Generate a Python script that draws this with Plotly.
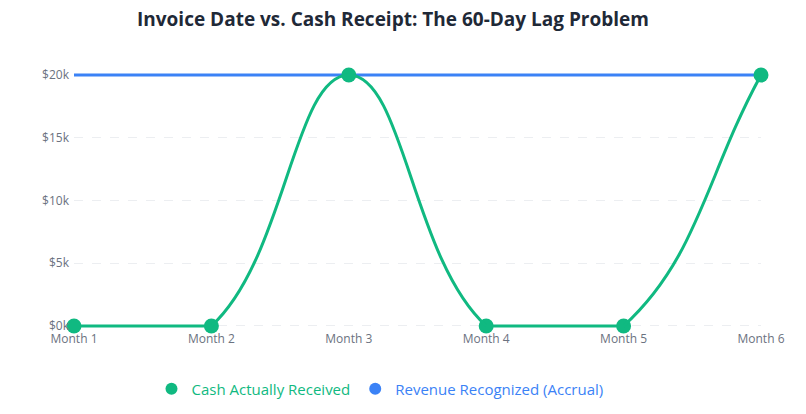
import math
import plotly.graph_objects as go

months = ["Month 1", "Month 2", "Month 3", "Month 4", "Month 5", "Month 6"]
cash_received = [0, 0, 20000, 0, 0, 20000]
revenue_recognized = [20000, 20000, 20000, 20000, 20000, 20000]
y_ticks = [0, 5000, 10000, 15000, 20000]
y_tick_labels = ["$0k", "$5k", "$10k", "$15k", "$20k"]

GREEN = "#10b981"
BLUE = "#3b82f6"
FONT = "Open Sans, Noto Sans, sans-serif"

Y_MIN, Y_MAX = 0, 20000
x_idx = list(range(len(months)))

# --- smooth (tension 0.4, capped) curve through the cash points, built from the data ---
PX_X = 137.4            # approx pixels per category step (for aspect-correct tension)
PX_Y = 251 / 20000.0    # approx pixels per dollar
TENSION = 0.4

def to_px(i, v):
    return (i * PX_X, v * PX_Y)

def to_data(px, py):
    return (px / PX_X, py / PX_Y)

pts = [to_px(i, v) for i, v in zip(x_idx, cash_received)]
ctrl_prev, ctrl_next = [], []
for k, p in enumerate(pts):
    a = pts[k - 1] if k > 0 else p
    c = pts[k + 1] if k < len(pts) - 1 else p
    d01 = math.dist(a, p)
    d12 = math.dist(p, c)
    tot = d01 + d12
    s01 = d01 / tot if tot else 0
    s12 = d12 / tot if tot else 0
    fa, fb = TENSION * s01, TENSION * s12
    cp1 = (p[0] - fa * (c[0] - a[0]), p[1] - fa * (c[1] - a[1]))
    cp2 = (p[0] + fb * (c[0] - a[0]), p[1] + fb * (c[1] - a[1]))
    ctrl_prev.append(cp1)
    ctrl_next.append(cp2)

def cap(pt):
    x, y = to_data(*pt)
    x = min(max(x, x_idx[0]), x_idx[-1])
    y = min(max(y, Y_MIN), Y_MAX)
    return x, y

path = "M {},{}".format(x_idx[0], cash_received[0])
for k in range(1, len(pts)):
    c1 = cap(ctrl_next[k - 1])
    c2 = cap(ctrl_prev[k])
    path += " C {:.4f},{:.2f} {:.4f},{:.2f} {},{}".format(c1[0], c1[1], c2[0], c2[1], x_idx[k], cash_received[k])

fig = go.Figure()
fig.add_trace(go.Scatter(
    x=x_idx, y=revenue_recognized, mode="lines",
    line=dict(color=BLUE, width=3), showlegend=False,
))
fig.add_trace(go.Scatter(
    x=x_idx, y=cash_received, mode="markers",
    marker=dict(color=GREEN, size=15), showlegend=False, cliponaxis=False,
))
fig.add_shape(type="path", path=path, xref="x", yref="y",
              line=dict(color=GREEN, width=3), layer="above")

# legend entries (circle symbols, coloured text)
fig.add_trace(go.Scatter(
    x=[None], y=[None], mode="markers",
    name='<span style="color:%s">Cash Actually Received</span>' % GREEN,
    marker=dict(color=GREEN, size=12), legendrank=1,
))
fig.add_trace(go.Scatter(
    x=[None], y=[None], mode="markers",
    name='<span style="color:%s">Revenue Recognized (Accrual)</span>' % BLUE,
    marker=dict(color=BLUE, size=12), legendrank=2,
))

fig.update_layout(
    width=806, height=414,
    margin=dict(l=74, r=45, t=71, b=85, autoexpand=False),
    paper_bgcolor="white", plot_bgcolor="white",
    title=dict(text="<b>Invoice Date vs. Cash Receipt: The 60-Day Lag Problem</b>",
               x=0.4876, xanchor="center", y=0.954, yanchor="middle",
               font=dict(family=FONT, size=19, color="#1f2937")),
    font=dict(family=FONT, color="#6b7280", size=12),
    showlegend=True,
    legend=dict(orientation="h", x=0.4454, xanchor="center", y=-0.2326, yanchor="middle",
                font=dict(size=15), itemwidth=30, tracegroupgap=0),
    xaxis=dict(range=[0, 5], tickvals=x_idx, ticktext=months,
               showgrid=False, showline=False, zeroline=False, ticks="",
               ticklabelstandoff=1, tickfont=dict(size=12, color="#6b7280")),
    yaxis=dict(range=[-240, 20320], tickvals=y_ticks, ticktext=y_tick_labels,
               showgrid=True, gridcolor="#eceef1", griddash="dash", gridwidth=1,
               zeroline=False, showline=False, ticks="", ticklabelstandoff=4,
               tickfont=dict(size=12, color="#6b7280")),
)

fig.write_html("out.html")
